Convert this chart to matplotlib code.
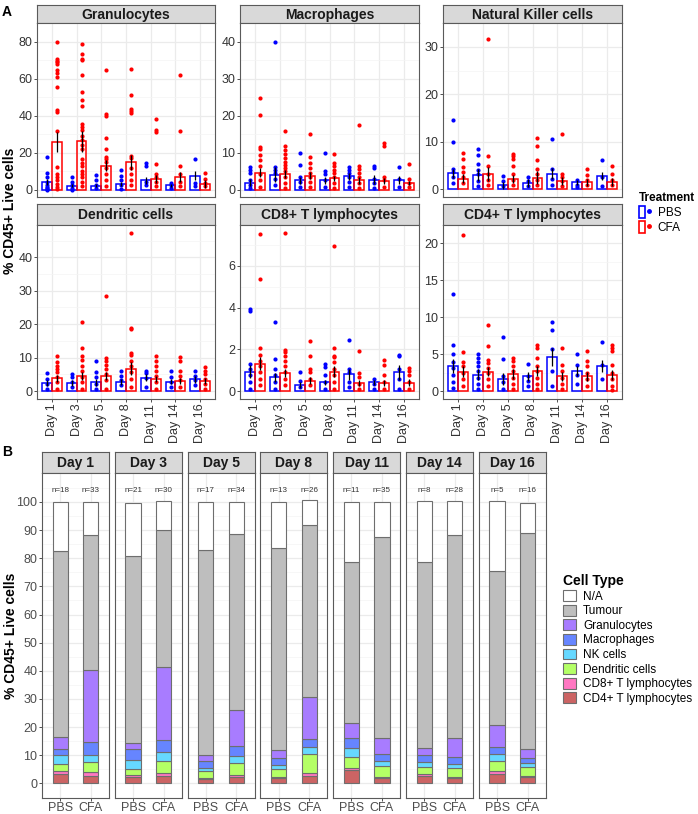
import numpy as np
import matplotlib
matplotlib.use("Agg")
import matplotlib.pyplot as plt
from matplotlib.patches import Rectangle
from matplotlib.lines import Line2D
from matplotlib.legend_handler import HandlerTuple

plt.rcParams['font.family'] = ['Liberation Sans', 'DejaVu Sans']

# ---------------- data ----------------
days = ["Day 1", "Day 3", "Day 5", "Day 8", "Day 11", "Day 14", "Day 16"]

# panel A: means, SEM and individual points (PBS / CFA)
gran_pbs_mean = [4.2, 2.0, 2.2, 3.0, 5.0, 2.3, 7.5]
gran_cfa_mean = [25.8, 26.0, 12.8, 14.8, 5.8, 7.0, 3.0]
gran_pbs_sem = [1.5, 0.8, 0.8, 1.0, 1.8, 0.7, 2.5]
gran_cfa_sem = [5.5, 5.5, 3.0, 4.0, 2.0, 2.7, 2.0]
gran_pbs_pts = [[17.8, 9.2, 6.7, 4.2, 2.5, 1.5, 0.8, 0.3, 0],
                [6.7, 4.2, 2.5, 0.8, 0],
                [7.7, 5.0, 2.5, 0.8],
                [10.8, 7.5, 5.0, 2.5, 0.5],
                [14.3, 13.0, 4.2, 2.5],
                [3.7, 2.3, 0.8],
                [16.7, 3.7, 1.7]]
gran_cfa_pts = [[79.7, 70.7, 69.7, 68.7, 67.7, 64.7, 63.0, 60.8, 55.5, 43.0, 42.0, 31.7, 12.3, 8.7, 6.7, 5.0, 3.0, 1.5, 0.3],
                [78.5, 73.0, 70.7, 70.0, 62.0, 53.0, 48.3, 45.0, 35.7, 34.0, 32.2, 28.7, 26.7, 24.0, 21.7, 16.7, 14.3, 12.5, 10.0, 8.3, 6.7, 4.2, 1.7],
                [64.7, 40.7, 40.0, 28.0, 22.2, 17.7, 16.7, 15.0, 11.7, 8.3, 5.0, 1.7],
                [65.0, 51.2, 43.8, 42.5, 41.3, 18.3, 17.0, 11.7, 8.3, 5.0, 2.5],
                [38.3, 32.0, 31.0, 13.7, 8.3, 6.7, 4.2, 1.7],
                [61.7, 31.7, 12.5, 8.3, 4.2, 1.7],
                [9.2, 5.8, 3.7, 1.7]]

mac_pbs_mean = [1.9, 4.0, 2.5, 2.5, 3.6, 2.7, 2.5]
mac_cfa_mean = [4.6, 4.1, 3.8, 3.1, 2.5, 2.2, 1.8]
mac_pbs_sem = [1.0, 2.0, 1.0, 0.9, 1.0, 1.2, 1.1]
mac_cfa_sem = [1.2, 1.1, 1.0, 0.7, 0.9, 0.8, 0.6]
mac_pbs_pts = [[6.2, 5.4, 4.6, 2.5, 1.3, 0.4],
               [40.0, 6.2, 5.4, 4.6, 2.9, 1.3],
               [9.9, 6.7, 3.3, 2.1, 0.8],
               [9.9, 5.0, 4.2, 2.5, 0.8],
               [6.2, 5.4, 4.6, 3.3, 2.1, 0.8],
               [6.5, 5.7, 2.9, 1.7, 0.4],
               [6.1, 2.9, 0.8]]
mac_cfa_pts = [[24.8, 20.1, 11.5, 10.9, 9.4, 7.9, 6.3, 4.2, 2.5, 0.8],
               [15.7, 11.7, 10.7, 9.6, 8.4, 7.5, 6.7, 5.9, 5.0, 3.3, 1.7, 0.4],
               [14.9, 8.8, 7.1, 5.9, 4.6, 3.3, 2.1, 0.8],
               [9.5, 7.1, 6.3, 5.4, 4.6, 3.3, 1.7, 0.4],
               [17.4, 6.5, 5.6, 4.6, 3.3, 1.7, 0.4],
               [12.6, 11.9, 3.5, 2.5, 0.8],
               [7.0, 2.9, 1.8, 0.8]]

nk_pbs_mean = [3.4, 3.0, 0.9, 1.3, 3.3, 1.5, 2.8]
nk_cfa_mean = [2.3, 3.3, 2.2, 2.5, 1.8, 1.5, 1.6]
nk_pbs_sem = [1.0, 1.2, 0.7, 0.8, 1.2, 0.5, 0.8]
nk_cfa_sem = [1.0, 1.5, 0.8, 1.3, 0.8, 0.8, 0.9]
nk_pbs_pts = [[14.5, 9.9, 4.4, 3.6, 2.7, 1.3],
              [8.6, 7.3, 5.3, 4.1, 3.3, 1.7, 0.7],
              [2.8, 1.7, 0.7],
              [2.7, 1.7, 0.7],
              [10.7, 4.3, 2.3, 1.0],
              [2.0, 1.0, 0.5],
              [6.1, 2.7, 0.7]]
nk_cfa_pts = [[7.6, 6.3, 4.8, 3.6, 2.7, 1.3],
              [31.7, 7.1, 4.9, 3.3, 2.0, 1.0],
              [7.5, 7.0, 6.3, 5.0, 3.3, 2.0, 1.0],
              [10.8, 9.2, 6.2, 4.3, 3.3, 2.0, 1.0],
              [11.7, 3.3, 2.7, 1.7, 0.7],
              [4.3, 3.0, 2.0, 1.0],
              [5.0, 3.3, 2.0, 1.0]]

dc_pbs_mean = [2.5, 2.4, 2.6, 2.7, 4.0, 2.8, 3.5]
dc_cfa_mean = [3.8, 4.5, 4.5, 6.7, 3.6, 3.1, 3.1]
dc_pbs_sem = [0.9, 0.8, 1.0, 0.9, 1.0, 0.8, 1.0]
dc_cfa_sem = [1.0, 1.1, 1.2, 1.9, 0.9, 0.9, 0.9]
dc_pbs_pts = [[5.4, 3.7, 2.2, 0.7],
              [5.1, 4.1, 2.7, 1.2],
              [8.9, 5.6, 4.1, 2.2, 0.7],
              [6.1, 4.6, 3.2, 1.7],
              [6.1, 5.3, 3.9, 1.2],
              [6.1, 4.1, 2.7, 1.2],
              [6.1, 4.6, 3.2, 1.7]]
dc_cfa_pts = [[10.6, 8.6, 7.6, 6.6, 5.6, 4.1, 2.7, 0.7],
              [20.6, 12.8, 10.6, 9.4, 7.6, 6.1, 4.1, 2.7, 0.7],
              [28.3, 10.0, 9.0, 7.8, 6.6, 5.1, 3.2, 0.7],
              [47.3, 19.0, 18.5, 11.5, 10.8, 9.1, 7.6, 5.6, 3.7, 1.2],
              [10.6, 9.1, 7.6, 6.1, 4.6, 2.7, 0.7],
              [10.1, 9.1, 6.1, 4.6, 3.2, 1.2],
              [7.1, 6.1, 5.1, 3.7, 2.2, 0.7]]

cd8_pbs_mean = [0.93, 0.66, 0.30, 0.43, 0.80, 0.43, 0.90]
cd8_cfa_mean = [1.31, 0.87, 0.50, 0.93, 0.40, 0.40, 0.40]
cd8_pbs_sem = [0.3, 0.22, 0.15, 0.12, 0.27, 0.12, 0.35]
cd8_cfa_sem = [0.3, 0.18, 0.17, 0.25, 0.15, 0.15, 0.17]
cd8_pbs_pts = [[3.93, 3.85, 1.3, 1.06, 0.75, 0.43, 0.1],
               [3.32, 1.53, 1.06, 0.75, 0.43, 0.1],
               [0.93, 0.5, 0.19],
               [1.3, 1.14, 0.75, 0.43, 0.1],
               [2.43, 1.06, 0.9, 0.43, 0.19],
               [0.58, 0.35, 0.1],
               [1.75, 1.66, 1.06, 0.58, 0.1]]
cd8_cfa_pts = [[7.5, 5.35, 2.08, 1.72, 1.45, 1.22, 0.9, 0.58, 0.27],
               [7.57, 1.97, 1.85, 1.69, 1.45, 1.22, 0.9, 0.58, 0.27],
               [2.4, 1.69, 1.06, 0.9, 0.58, 0.27],
               [6.95, 2.04, 1.69, 1.61, 1.38, 1.06, 0.75, 0.43, 0.1],
               [1.9, 0.85, 0.66, 0.35, 0.1],
               [1.5, 1.26, 0.75, 0.43, 0.1],
               [1.09, 0.98, 0.75, 0.43, 0.1]]

cd4_pbs_mean = [3.4, 2.2, 1.6, 2.0, 4.6, 2.75, 3.4]
cd4_cfa_mean = [2.65, 2.65, 2.35, 2.7, 2.0, 2.0, 2.2]
cd4_pbs_sem = [1.0, 0.75, 0.8, 0.65, 1.2, 0.7, 0.8]
cd4_cfa_sem = [0.7, 0.65, 0.65, 0.7, 0.6, 0.65, 0.65]
cd4_pbs_pts = [[13.1, 6.3, 5.0, 3.9, 3.2, 2.2, 1.3, 0.4],
               [5.0, 4.5, 3.9, 3.4, 2.7, 1.8, 1.0, 0.3],
               [7.3, 4.3, 2.1, 1.2, 0.3],
               [3.7, 2.1, 1.4, 0.7],
               [9.4, 8.3, 5.7, 2.7, 0.75],
               [5.0, 3.5, 2.2, 1.0],
               [6.6, 3.6, 1.6]]
cd4_cfa_pts = [[21.2, 5.35, 4.0, 3.4, 2.5, 1.6, 0.75],
               [8.9, 6.1, 4.2, 3.8, 3.2, 2.5, 1.6, 0.75],
               [4.5, 4.1, 3.4, 2.7, 1.8, 1.0, 0.3],
               [6.2, 5.8, 4.5, 3.4, 2.7, 1.8, 1.0, 0.3],
               [5.8, 3.6, 2.7, 1.8, 1.0, 0.3],
               [5.5, 4.1, 3.4, 2.5, 1.6, 0.75],
               [6.3, 5.8, 5.5, 3.6, 2.5, 1.6, 0.75, 0.1]]

# panel B: tumour and unassigned fractions, group sizes
tumour_pbs = [66.2, 66.7, 72.7, 71.8, 57.4, 66.2, 54.8]
tumour_cfa = [47.8, 48.8, 62.6, 61.0, 71.3, 72.0, 76.7]
na_pbs = [17.5, 18.8, 17.2, 16.3, 21.4, 21.7, 24.8]
na_cfa = [11.7, 10.0, 11.2, 8.8, 12.7, 12.3, 10.8]
n_pbs = [18, 21, 17, 13, 11, 8, 5]
n_cfa = [33, 30, 34, 26, 35, 28, 16]

# ---------------- layout helpers ----------------
W, H = 698, 814
fig = plt.figure(figsize=(W / 100, H / 100), dpi=100)

BORDER = '#5a5a5a'
GRID = '#EBEBEB'
TICKTXT = '#333333'


def px_axes(l, t, r, b):
    return fig.add_axes([l / W, 1 - b / H, (r - l) / W, (b - t) / H])


def strip(l, t, r, b, label):
    s = px_axes(l, t, r, b)
    s.set_facecolor('#D9D9D9')
    s.set_xticks([])
    s.set_yticks([])
    for sp in s.spines.values():
        sp.set_color(BORDER)
        sp.set_linewidth(0.8)
    s.text(0.5, 0.47, label, ha='center', va='center', fontsize=10,
           fontweight='bold', color='#1A1A1A', transform=s.transAxes)


def style_panel(ax):
    for sp in ax.spines.values():
        sp.set_color(BORDER)
        sp.set_linewidth(0.8)
    ax.set_axisbelow(True)
    ax.tick_params(length=2.2, width=0.6, color='#333333', pad=1.2)


# ---------------- panel A ----------------
panels_a = [
    ("Granulocytes", gran_pbs_mean, gran_pbs_sem, gran_pbs_pts, gran_cfa_mean, gran_cfa_sem, gran_cfa_pts, [0, 20, 40, 60, 80]),
    ("Macrophages", mac_pbs_mean, mac_pbs_sem, mac_pbs_pts, mac_cfa_mean, mac_cfa_sem, mac_cfa_pts, [0, 10, 20, 30, 40]),
    ("Natural Killer cells", nk_pbs_mean, nk_pbs_sem, nk_pbs_pts, nk_cfa_mean, nk_cfa_sem, nk_cfa_pts, [0, 10, 20, 30]),
    ("Dendritic cells", dc_pbs_mean, dc_pbs_sem, dc_pbs_pts, dc_cfa_mean, dc_cfa_sem, dc_cfa_pts, [0, 10, 20, 30, 40]),
    ("CD8+ T lymphocytes", cd8_pbs_mean, cd8_pbs_sem, cd8_pbs_pts, cd8_cfa_mean, cd8_cfa_sem, cd8_cfa_pts, [0, 2, 4, 6]),
    ("CD4+ T lymphocytes", cd4_pbs_mean, cd4_pbs_sem, cd4_pbs_pts, cd4_cfa_mean, cd4_cfa_sem, cd4_cfa_pts, [0, 5, 10, 15, 20]),
]
cols_a = [(37, 215), (240, 419), (443, 622)]
rows_a = [(5, 23, 197), (204, 225, 399)]

x = np.arange(1, len(days) + 1)
for i, (name, pm, ps, pp, cm, cs, cp, yt) in enumerate(panels_a):
    l, r = cols_a[i % 3]
    st, pt, pb = rows_a[i // 3]
    strip(l, st, r, pt, name)
    ax = px_axes(l, pt, r, pb)
    style_panel(ax)

    for off, mean, sem, pts, col in [(-0.2, pm, ps, pp, 'blue'), (0.2, cm, cs, cp, 'red')]:
        xs = x + off
        ax.bar(xs, mean, width=0.4, fill=False, edgecolor=col, linewidth=1.1, zorder=2)
        for xi, vals in zip(xs, pts):
            ax.scatter(np.full(len(vals), xi), vals, s=9, color=col, linewidths=0, zorder=3)
        ax.errorbar(xs, mean, yerr=sem, fmt='none', ecolor='black', elinewidth=0.9, capsize=0, zorder=4)

    ymax = max(max(max(v) for v in pp), max(max(v) for v in cp))
    ax.set_ylim(-0.05 * ymax, ymax * 1.05)
    ax.set_xlim(0.4, len(days) + 0.6)
    ax.set_yticks(yt)
    ax.set_yticks([v + (yt[1] - yt[0]) / 2 for v in yt], minor=True)
    ax.tick_params(axis='y', which='minor', length=0)
    ax.grid(True, which='major', color=GRID, linewidth=0.9)
    ax.grid(True, which='minor', axis='y', color='#F4F4F4', linewidth=0.5)
    ax.tick_params(axis='y', labelsize=9, labelcolor=TICKTXT)
    ax.set_xticks(x)
    if i // 3 == 1:
        ax.set_xticklabels(days, rotation=90, fontsize=9, color=TICKTXT)
    else:
        ax.tick_params(axis='x', length=0, labelbottom=False)

fig.text(2 / W, 1 - 12 / H, "A", fontsize=10, fontweight='bold', ha='left', va='center')
fig.text(10 / W, 1 - 211 / H, "% CD45+ Live cells", rotation=90, fontsize=10,
         fontweight='bold', ha='center', va='center')

# treatment legend
pbs_h = (Rectangle((0, 0), 1, 1, fill=False, edgecolor='blue', linewidth=1.2),
         Line2D([], [], marker='o', ls='', color='blue', markersize=2.5))
cfa_h = (Rectangle((0, 0), 1, 1, fill=False, edgecolor='red', linewidth=1.2),
         Line2D([], [], marker='o', ls='', color='red', markersize=2.5))
leg = fig.legend([pbs_h, cfa_h], ["PBS", "CFA"], handler_map={tuple: HandlerTuple(ndivide=None)},
                 loc='upper left', bbox_to_anchor=(633 / W, 1 - 186 / H), frameon=False,
                 title="Treatment", fontsize=8.5, handlelength=1.1, handleheight=1.1,
                 labelspacing=0.2, handletextpad=0.5, borderpad=0.0)
leg.get_title().set_fontweight('bold')
leg.get_title().set_fontsize(8.5)
leg._legend_box.align = "left"

# ---------------- panel B ----------------
seg_names = ["CD4+ T lymphocytes", "CD8+ T lymphocytes", "Dendritic cells", "NK cells",
             "Macrophages", "Granulocytes", "Tumour", "N/A"]
seg_colors = ['#CC6464', '#FF77C2', '#B4FF66', '#66D8FF', '#6685FF', '#A87CFF', '#BEBEBE', '#FFFFFF']
seg_pbs = [cd4_pbs_mean, cd8_pbs_mean, dc_pbs_mean, nk_pbs_mean, mac_pbs_mean, gran_pbs_mean, tumour_pbs, na_pbs]
seg_cfa = [cd4_cfa_mean, cd8_cfa_mean, dc_cfa_mean, nk_cfa_mean, mac_cfa_mean, gran_cfa_mean, tumour_cfa, na_cfa]

for d in range(len(days)):
    l = 42 + d * 72.8
    r = l + 67
    strip(l, 452, r, 473, days[d])
    ax = px_axes(l, 473, r, 798)
    style_panel(ax)
    bottom = np.zeros(2)
    for k in range(len(seg_names)):
        h = np.array([seg_pbs[k][d], seg_cfa[k][d]])
        ax.bar([1, 2], h, bottom=bottom, width=0.5, color=seg_colors[k],
               edgecolor='#6E6E6E', linewidth=0.8, zorder=2)
        bottom += h
    ax.text(1, 104, f"n={n_pbs[d]}", ha='center', va='center', fontsize=5.8, color=TICKTXT)
    ax.text(2, 104, f"n={n_cfa[d]}", ha='center', va='center', fontsize=5.8, color=TICKTXT)
    ax.set_xlim(0.4, 2.6)
    ax.set_ylim(-5.2, 110.3)
    ax.set_xticks([1, 2])
    ax.set_xticklabels(["PBS", "CFA"], fontsize=9, color='#4D4D4D')
    ax.tick_params(axis='x', pad=0.8, length=2.0)
    ax.set_yticks(np.arange(0, 101, 10))
    ax.set_yticks(np.arange(5, 106, 10), minor=True)
    ax.tick_params(axis='y', which='minor', length=0)
    ax.grid(True, which='major', color=GRID, linewidth=0.9)
    ax.grid(True, which='minor', axis='y', color='#F4F4F4', linewidth=0.5)
    if d == 0:
        ax.tick_params(axis='y', labelsize=9, labelcolor='#4D4D4D')
    else:
        ax.tick_params(axis='y', length=0, labelleft=False)

fig.text(2 / W, 1 - 452 / H, "B", fontsize=10, fontweight='bold', ha='left', va='center')
fig.text(11 / W, 1 - 636 / H, "% CD45+ Live cells", rotation=90, fontsize=10,
         fontweight='bold', ha='center', va='center')

handles_b = [Rectangle((0, 0), 1, 1, facecolor=c, edgecolor='#6E6E6E', linewidth=0.8)
             for c in seg_colors[::-1]]
leg_b = fig.legend(handles_b, seg_names[::-1], loc='upper left',
                   bbox_to_anchor=(557 / W, 1 - 568 / H), frameon=False, title="Cell Type",
                   fontsize=8.5, handlelength=1.15, handleheight=1.05, labelspacing=0.18,
                   handletextpad=0.55, borderpad=0.0)
leg_b.get_title().set_fontweight('bold')
leg_b.get_title().set_fontsize(10)
leg_b._legend_box.align = "left"

fig.savefig("out.png", dpi=100)
